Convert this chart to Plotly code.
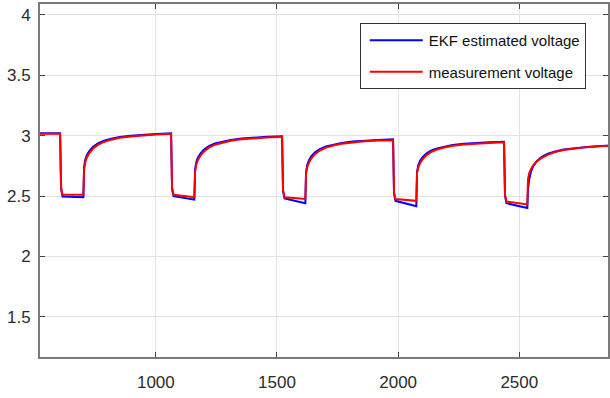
import plotly.graph_objects as go

time_s = [500,
          605, 609, 615, 701, 704, 709, 716, 726, 741, 761, 786, 816, 851, 896, 946, 1001,
          1063, 1067, 1073, 1159, 1162, 1167, 1174, 1184, 1199, 1219, 1244, 1274, 1309, 1354, 1404, 1459,
          1521, 1525, 1531, 1617, 1620, 1625, 1632, 1642, 1657, 1677, 1702, 1732, 1767, 1812, 1862, 1917,
          1979, 1983, 1989, 2075, 2078, 2083, 2090, 2100, 2115, 2135, 2160, 2190, 2225, 2270, 2320, 2375,
          2437, 2441, 2447, 2533, 2536, 2541, 2548, 2558, 2573, 2593, 2618, 2648, 2683, 2728, 2778, 2833,
          2895]

ekf_voltage = [3.02,
               3.02, 2.56, 2.495, 2.49, 2.740, 2.802, 2.841, 2.874, 2.908, 2.936, 2.958, 2.975, 2.989, 3.000, 3.009, 3.014,
               3.02, 2.56, 2.50, 2.47, 2.720, 2.781, 2.819, 2.852, 2.885, 2.913, 2.935, 2.951, 2.965, 2.976, 2.984, 2.990,
               2.995, 2.54, 2.48, 2.44, 2.700, 2.759, 2.797, 2.830, 2.862, 2.889, 2.911, 2.927, 2.940, 2.951, 2.959, 2.965,
               2.97, 2.52, 2.46, 2.415, 2.700, 2.755, 2.790, 2.820, 2.850, 2.875, 2.895, 2.910, 2.923, 2.933, 2.940, 2.945,
               2.95, 2.50, 2.44, 2.40, 2.56, 2.64, 2.70, 2.75, 2.79, 2.825, 2.85, 2.87, 2.885, 2.898, 2.907, 2.914,
               2.92]

measured_voltage = [3.015,
                    3.015, 2.57, 2.51, 2.51, 2.720, 2.782, 2.821, 2.856, 2.893, 2.924, 2.948, 2.967, 2.982, 2.994, 3.004, 3.009,
                    3.015, 2.57, 2.51, 2.49, 2.700, 2.761, 2.799, 2.834, 2.870, 2.901, 2.925, 2.943, 2.958, 2.970, 2.979, 2.985,
                    2.99, 2.55, 2.49, 2.475, 2.690, 2.740, 2.777, 2.812, 2.847, 2.877, 2.901, 2.919, 2.933, 2.945, 2.954, 2.959,
                    2.96, 2.53, 2.475, 2.46, 2.690, 2.735, 2.770, 2.802, 2.835, 2.863, 2.885, 2.902, 2.916, 2.927, 2.935, 2.940,
                    2.945, 2.51, 2.455, 2.43, 2.640, 2.690, 2.722, 2.755, 2.787, 2.817, 2.843, 2.864, 2.881, 2.895, 2.905, 2.912,
                    2.92]

x_ticks = [1000, 1500, 2000, 2500]
y_ticks = [1.5, 2, 2.5, 3, 3.5, 4]
y_tick_text = ["1.5", "2", "2.5", "3", "3.5", "4"]

FONT = "Liberation Sans, Arial, sans-serif"

fig = go.Figure()
fig.add_trace(go.Scatter(x=time_s, y=ekf_voltage, mode="lines", name="EKF estimated voltage",
                         line=dict(color="#0000ff", width=2), legendgroup="a"))
fig.add_trace(go.Scatter(x=time_s, y=measured_voltage, mode="lines", name="measurement voltage",
                         line=dict(color="#ff0000", width=2), legendgroup="b"))

axis_common = dict(showline=True, linecolor="#7a7a7a", linewidth=2, mirror="ticks",
                   ticks="inside", ticklen=5, tickwidth=1, tickcolor="#444444",
                   showgrid=True, gridcolor="#e3e3e3", gridwidth=1, zeroline=False,
                   automargin=False,
                   tickfont=dict(family=FONT, size=17, color="#2b2b2b"))

fig.update_layout(
    width=610, height=398,
    margin=dict(l=40, r=2, t=4, b=41),
    paper_bgcolor="white", plot_bgcolor="white",
    showlegend=True,
    legend=dict(x=0.563, y=0.946, xanchor="left", yanchor="top",
                bgcolor="white", bordercolor="#333333", borderwidth=1,
                font=dict(family=FONT, size=15, color="#111111"),
                tracegroupgap=9, itemwidth=58),
    xaxis=dict(range=[522, 2866], tickvals=x_ticks, ticklabelstandoff=9, **axis_common),
    yaxis=dict(range=[1.166, 4.091], tickvals=y_ticks, ticktext=y_tick_text,
               ticklabelstandoff=4, **axis_common),
)

post_js = """
document.body.style.margin = '0';
document.body.style.padding = '0';
document.querySelectorAll('.legendlines path').forEach(function(p){ p.setAttribute('d', 'M9,0h53'); });
"""

fig.write_html("out.html", post_script=post_js, config={"displayModeBar": False})
